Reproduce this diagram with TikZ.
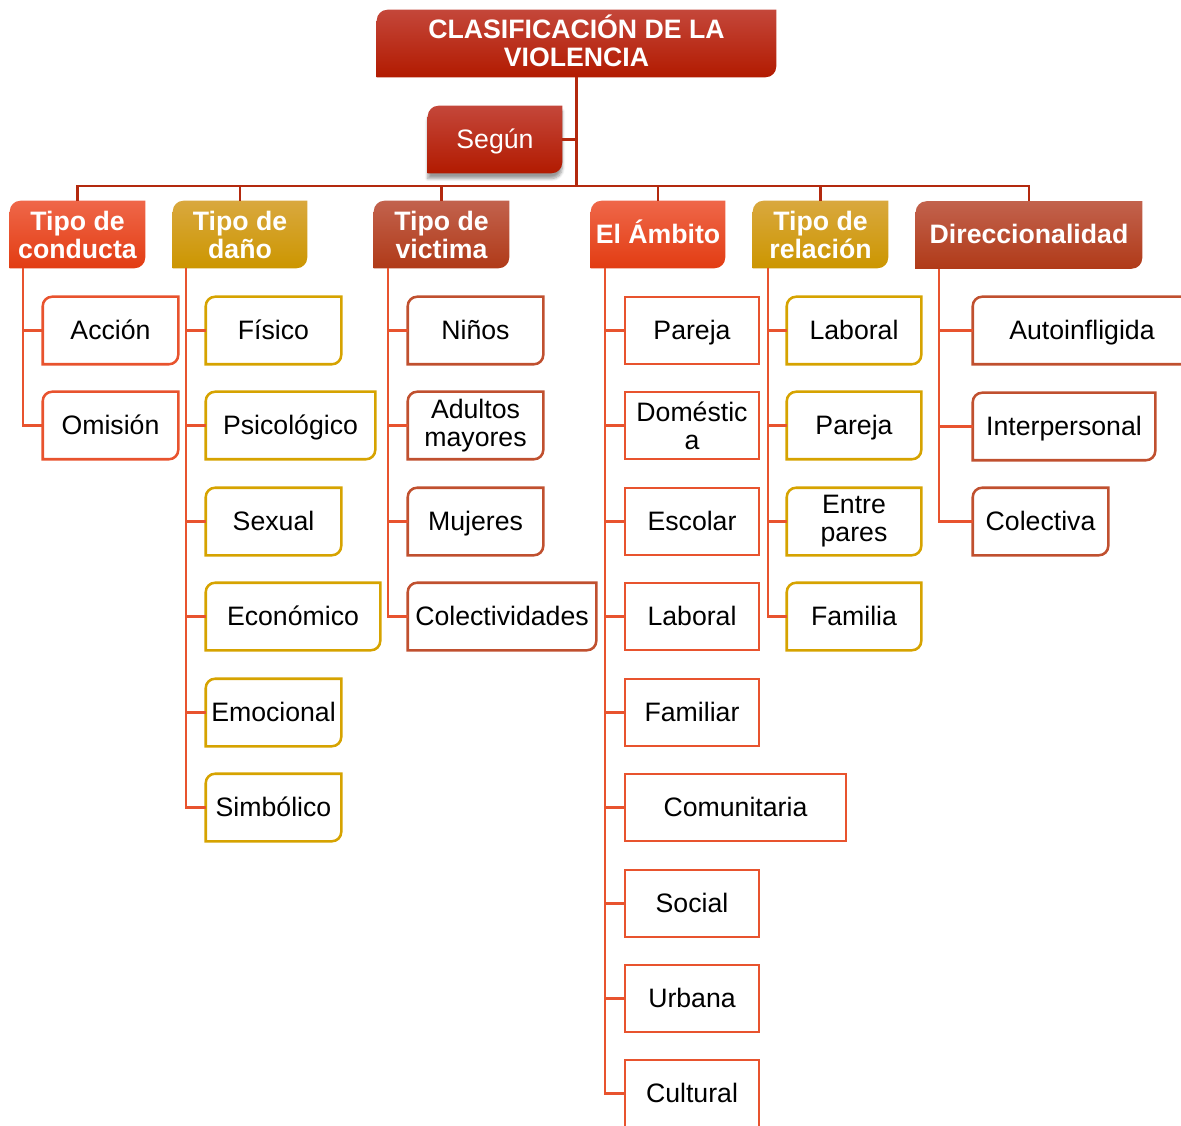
\documentclass[tikz,border=0pt]{standalone}
\usepackage{fontspec}
\setmainfont{Liberation Sans}
\usetikzlibrary{backgrounds,shadows.blur}

\definecolor{trunkred}{HTML}{B3290E}
\definecolor{linkred}{HTML}{E8532E}
\definecolor{orgtop}{HTML}{EF6749}
\definecolor{orgbot}{HTML}{E23C12}
\definecolor{goldtop}{HTML}{D9A83E}
\definecolor{goldbot}{HTML}{CC9600}
\definecolor{goldline}{HTML}{D6A300}
\definecolor{bricktop}{HTML}{C2624D}
\definecolor{brickbot}{HTML}{B03A18}
\definecolor{brickline}{HTML}{C0502F}
\definecolor{crimtop}{HTML}{C4473A}
\definecolor{crimbot}{HTML}{B21A00}

% outline with rounded top-left and bottom-right corners
\newcommand\diagshape[3][7pt]{%
  \path[#3] ([yshift=-#1]#2.north west) arc[start angle=180,end angle=90,radius=#1]
    -- (#2.north east) -- ([yshift=#1]#2.south east)
    arc[start angle=0,end angle=-90,radius=#1] -- (#2.south west) -- cycle;}

\tikzset{
  x=0.75pt, y=-0.75pt,
  every node/.style={font=\fontsize{20}{21}\selectfont, align=center, inner sep=0pt,
    minimum height=50.25pt},
  bw/.style={minimum width=0.75pt*#1},
  one/.style={text height=15pt, text depth=2.2pt},
  head/.style={text=white, font=\bfseries\fontsize{20}{21}\selectfont},
  trunk/.style={draw=trunkred, line width=2.2pt},
  conn/.style={draw=linkred, line width=2.2pt},
  orgfill/.style={top color=orgtop, bottom color=orgbot},
  goldfill/.style={top color=goldtop, bottom color=goldbot},
  brickfill/.style={top color=bricktop, bottom color=brickbot},
  crimfill/.style={top color=crimtop, bottom color=crimbot},
  orgedge/.style={draw=linkred, line width=1.9pt},
  goldedge/.style={draw=goldline, line width=1.9pt},
  brickedge/.style={draw=brickline, line width=1.9pt},
  sqbox/.style={draw=linkred, line width=1.9pt},
}

\begin{document}
\begin{tikzpicture}
\useasboundingbox (0,0) rectangle (1181,1126);

% root and qualifier
\node[head, bw=399] (title) at (576.5,43.5) {CLASIFICACI\smash{Ó}N DE LA\\VIOLENCIA};
\node[text=white, bw=134, one] (sg) at (495,139.5) {Según};

% category headers
\node[head, bw=135] (h1) at (77.5,234.5) {Tipo de\\conducta};
\node[head, bw=134] (h2) at (240,234.5) {Tipo de\\daño};
\node[head, bw=135] (h3) at (441.5,234.5) {Tipo de\\victima};
\node[head, bw=134, one] (h4) at (658,234.5) {El Ámbito};
\node[head, bw=135] (h5) at (820.5,234.5) {Tipo de\\relación};
\node[head, bw=226, one] (h6) at (1029,235) {Direccionalidad};

% Tipo de conducta
\node[bw=135, one] (a1) at (110.5,330.5) {Acción};
\node[bw=135, one] (a2) at (110.5,425.5) {Omisión};
% Tipo de daño
\node[bw=135, one] (b1) at (273.5,330.5) {Físico};
\node[bw=169, one] (b2) at (290.5,425.5) {Psicológico};
\node[bw=135, one] (b3) at (273.5,521.5) {Sexual};
\node[bw=174, one] (b4) at (293,616.5) {Económico};
\node[bw=135, one] (b5) at (273.5,712.5) {Emocional};
\node[bw=135, one] (b6) at (273.5,807.5) {Simbólico};
% Tipo de victima
\node[bw=135, one] (c1) at (475.5,330.5) {Niños};
\node[bw=135] (c2) at (475.5,425.5) {Adultos\\mayores};
\node[bw=135, one] (c3) at (475.5,521.5) {Mujeres};
\node[bw=188, one] (c4) at (502,616.5) {Colectividades};
% El Ámbito
\node[bw=134, sqbox, one] (d1) at (692,330.5) {Pareja};
\node[bw=134, sqbox] (d2) at (692,425.5) {Doméstic\\a};
\node[bw=134, sqbox, one] (d3) at (692,521.5) {Escolar};
\node[bw=134, sqbox, one] (d4) at (692,616.5) {Laboral};
\node[bw=134, sqbox, one] (d5) at (692,712.5) {Familiar};
\node[bw=221, sqbox, one] (d6) at (735.5,807.5) {Comunitaria};
\node[bw=134, sqbox, one] (d7) at (692,903.5) {Social};
\node[bw=134, sqbox, one] (d8) at (692,998.5) {Urbana};
\node[bw=134, sqbox, one] (d9) at (692,1093.5) {Cultural};
% Tipo de relación
\node[bw=134, one] (e1) at (854,330.5) {Laboral};
\node[bw=134, one] (e2) at (854,425.5) {Pareja};
\node[bw=134] (e3) at (854,521.5) {Entre\\pares};
\node[bw=134, one] (e4) at (854,616.5) {Familia};
% Direccionalidad
\node[bw=218, one] (f1) at (1082,330.5) {Autoinfligida};
\node[bw=182, one] (f2) at (1064,426.5) {Interpersonal};
\node[bw=135, one] (f3) at (1040.5,521.5) {Colectiva};

% filled boxes behind their labels
\begin{scope}[on background layer]
  \diagshape[8pt]{title}{crimfill}
  \diagshape[8pt]{sg}{crimfill, blur shadow={shadow xshift=0pt, shadow yshift=-4pt, shadow blur steps=6}}
  \diagshape[8pt]{h1}{orgfill}
  \diagshape[8pt]{h2}{goldfill}
  \diagshape[8pt]{h3}{brickfill}
  \diagshape[8pt]{h4}{orgfill}
  \diagshape[8pt]{h5}{goldfill}
  \diagshape[8pt]{h6}{brickfill}
\end{scope}

% outlined leaf boxes
\foreach \n in {a1,a2} {\diagshape{\n}{orgedge}}
\foreach \n in {b1,b2,b3,b4,b5,b6,e1,e2,e3,e4} {\diagshape{\n}{goldedge}}
\foreach \n in {c1,c2,c3,c4,f1,f2,f3} {\diagshape{\n}{brickedge}}

% trunk connectors
\coordinate (hub) at (576.5,186);
\draw[trunk] (title.south) -- (hub);
\draw[trunk] (sg.east) -- (sg.east -| hub);
\foreach \h in {h1,h2,h3,h4,h5,h6} {\draw[trunk] (hub) -| (\h.north);}

% spines under each header
\coordinate (s1) at (23,268);
\coordinate (s2) at (186,268);
\coordinate (s3) at (388,268);
\coordinate (s4) at (605,268);
\coordinate (s5) at (768,268);
\coordinate (s6) at (939,269);
\foreach \n in {a1,a2} {\draw[conn] (s1) |- (\n.west);}
\foreach \n in {b1,b2,b3,b4,b5,b6} {\draw[conn] (s2) |- (\n.west);}
\foreach \n in {c1,c2,c3,c4} {\draw[conn] (s3) |- (\n.west);}
\foreach \n in {d1,d2,d3,d4,d5,d6,d7,d8,d9} {\draw[conn] (s4) |- (\n.west);}
\foreach \n in {e1,e2,e3,e4} {\draw[conn] (s5) |- (\n.west);}
\foreach \n in {f1,f2,f3} {\draw[conn] (s6) |- (\n.west);}
\end{tikzpicture}
\end{document}
